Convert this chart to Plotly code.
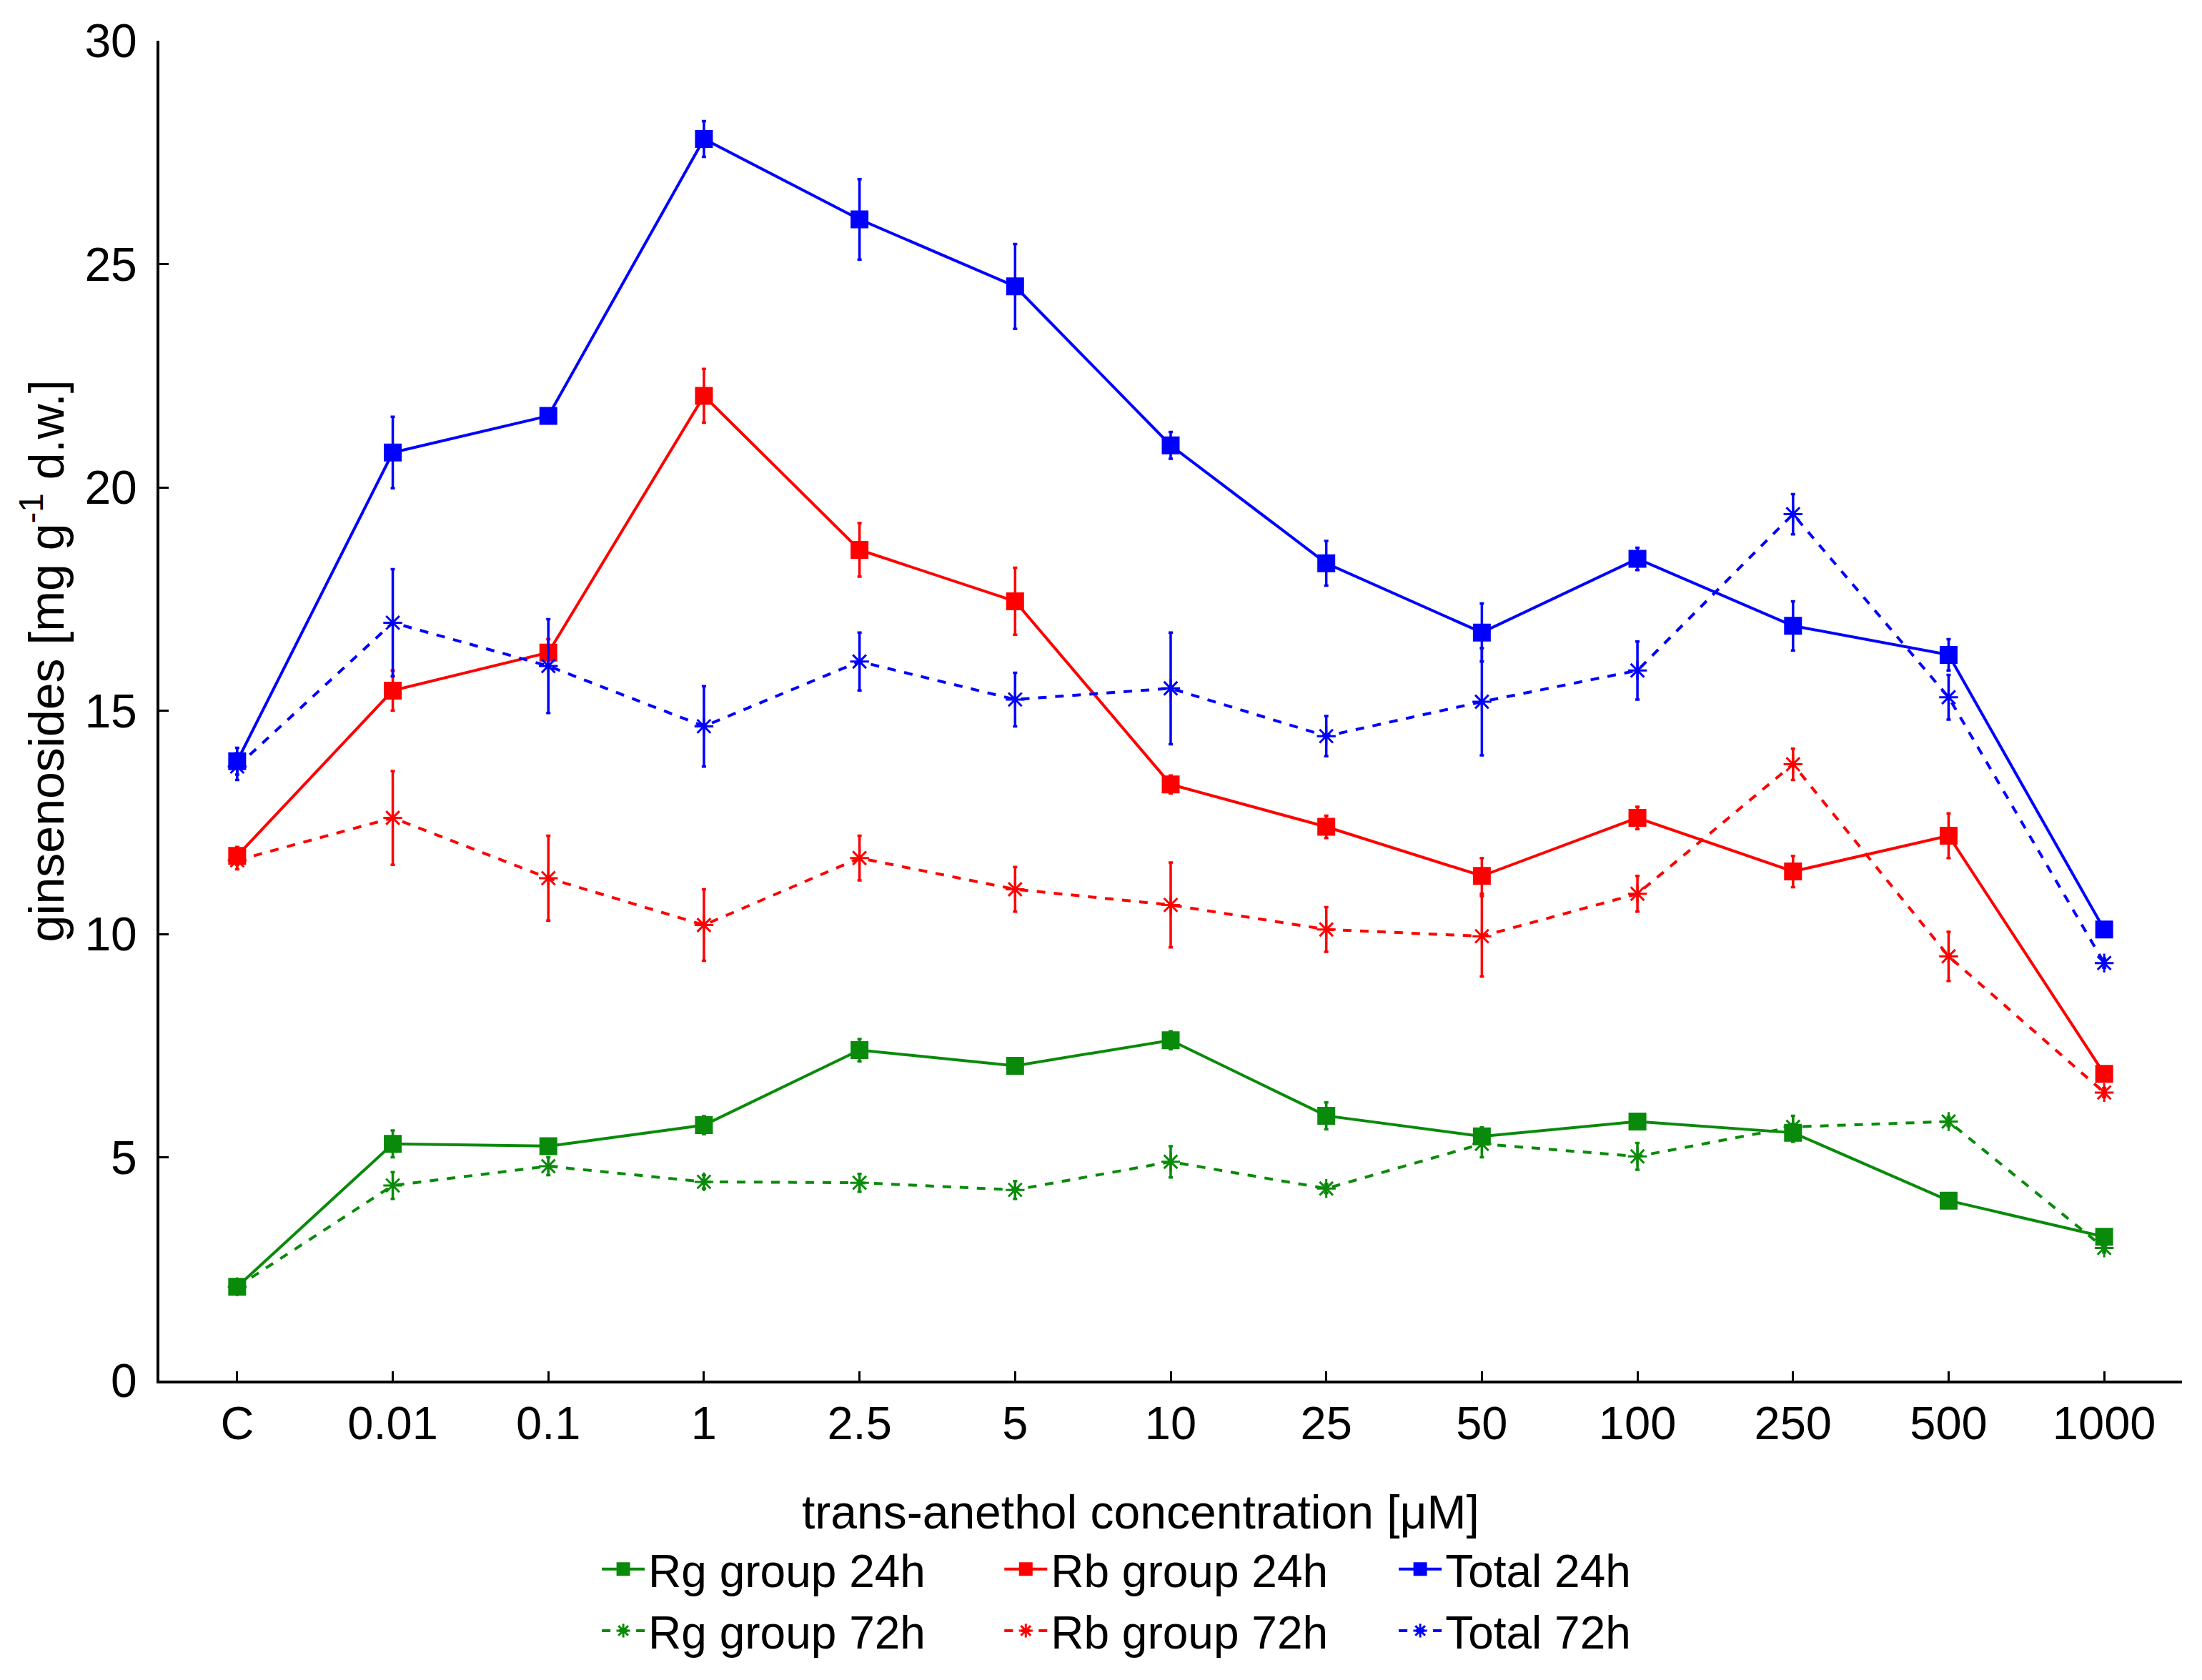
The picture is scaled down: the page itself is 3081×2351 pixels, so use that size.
import plotly.graph_objects as go

categories = ["C", "0.01", "0.1", "1", "2.5", "5", "10", "25", "50", "100", "250", "500", "1000"]

rg_24 = [2.1, 5.3, 5.25, 5.72, 7.4, 7.05, 7.62, 5.93, 5.47, 5.8, 5.55, 4.03, 3.22]
rg_24_err = [0.1, 0.3, 0.15, 0.2, 0.25, 0.15, 0.2, 0.3, 0.2, 0.1, 0.2, 0.1, 0.1]
rg_72 = [2.1, 4.37, 4.8, 4.45, 4.43, 4.27, 4.9, 4.3, 5.3, 5.02, 5.68, 5.8, 2.97]
rg_72_err = [0.1, 0.3, 0.2, 0.15, 0.2, 0.2, 0.35, 0.1, 0.3, 0.3, 0.25, 0.1, 0.1]

rb_24 = [11.75, 15.45, 16.3, 22.05, 18.6, 17.45, 13.35, 12.4, 11.3, 12.6, 11.4, 12.2, 6.87]
rb_24_err = [0.2, 0.45, 0.3, 0.6, 0.6, 0.75, 0.2, 0.25, 0.4, 0.25, 0.35, 0.5, 0.1]
rb_72 = [11.65, 12.6, 11.25, 10.2, 11.7, 11.0, 10.65, 10.1, 9.95, 10.9, 13.8, 9.5, 6.45]
rb_72_err = [0.2, 1.05, 0.95, 0.8, 0.5, 0.5, 0.95, 0.5, 0.9, 0.4, 0.35, 0.55, 0.1]

tot_24 = [13.87, 20.78, 21.6, 27.8, 26.0, 24.5, 20.94, 18.3, 16.75, 18.4, 16.9, 16.25, 10.1]
tot_24_err = [0.3, 0.8, 0.15, 0.4, 0.9, 0.95, 0.3, 0.5, 0.65, 0.25, 0.55, 0.35, 0.1]
tot_72 = [13.75, 16.97, 16.0, 14.65, 16.1, 15.25, 15.5, 14.43, 15.2, 15.9, 19.4, 15.3, 9.35]
tot_72_err = [0.3, 1.2, 1.05, 0.9, 0.65, 0.6, 1.25, 0.45, 1.2, 0.65, 0.45, 0.5, 0.1]

x_title = "trans-anethol concentration [μM]"
y_title = "ginsenosides [mg g<sup>-1</sup> d.w.]"

GREEN = "#0a8a0a"
RED = "#ff0000"
BLUE = "#0000ff"

series = [
    ("Rg group 24h", rg_24, rg_24_err, GREEN, "solid", "square", "legend"),
    ("Rg group 72h", rg_72, rg_72_err, GREEN, "dash", "asterisk-open", "legend"),
    ("Rb group 24h", rb_24, rb_24_err, RED, "solid", "square", "legend2"),
    ("Rb group 72h", rb_72, rb_72_err, RED, "dash", "asterisk-open", "legend2"),
    ("Total 24h", tot_24, tot_24_err, BLUE, "solid", "square", "legend3"),
    ("Total 72h", tot_72, tot_72_err, BLUE, "dash", "asterisk-open", "legend3"),
]

fig = go.Figure()
for name, vals, errs, col, dash, sym, lg in series:
    fig.add_trace(go.Scatter(
        x=categories, y=vals, name=name, mode="lines+markers", legend=lg,
        line=dict(color=col, width=4, dash=dash),
        marker=dict(symbol=sym, size=22, color=col,
                    line=dict(color=col, width=3)),
        error_y=dict(type="data", array=errs, visible=True, color=col,
                     thickness=3.5, width=3),
    ))

font_family = "Liberation Sans, Arial, sans-serif"


def legend_box(xpos):
    return dict(
        orientation="v", x=xpos, xanchor="left", y=-0.115, yanchor="top",
        font=dict(size=64, family=font_family), traceorder="normal",
        itemwidth=60, tracegroupgap=0, bgcolor="rgba(0,0,0,0)",
    )


# page body keeps an 8px default margin, so the figure is offset by 8px
fig.update_layout(
    width=3065, height=2335,
    paper_bgcolor="white", plot_bgcolor="white",
    margin=dict(l=215, r=20, t=38, b=411),
    font=dict(family=font_family, size=64, color="black"),
    showlegend=True,
    legend=legend_box(0.217),
    legend2=legend_box(0.416),
    legend3=legend_box(0.611),
    annotations=[
        dict(text=x_title, xref="paper", yref="paper", x=0.485, y=-0.098,
             xanchor="center", yanchor="middle", showarrow=False,
             font=dict(size=66, family=font_family)),
        dict(text=y_title, xref="paper", yref="paper", x=-0.0575, y=0.537,
             xanchor="center", yanchor="middle", showarrow=False, textangle=-90,
             font=dict(size=68, family=font_family)),
    ],
)
fig.update_xaxes(
    type="category", range=[-0.5, 12.5],
    showline=True, linecolor="black", linewidth=4,
    ticks="inside", ticklen=13, tickwidth=3, tickcolor="black",
    tickfont=dict(size=65), showgrid=False, zeroline=False,
)
fig.update_yaxes(
    range=[0, 30], tickvals=[0, 5, 10, 15, 20, 25, 30],
    showline=True, linecolor="black", linewidth=4,
    ticks="inside", ticklen=13, tickwidth=3, tickcolor="black",
    tickfont=dict(size=66), showgrid=False, zeroline=False,
    ticklabelstandoff=14,
)

fig.write_html("out.html")
